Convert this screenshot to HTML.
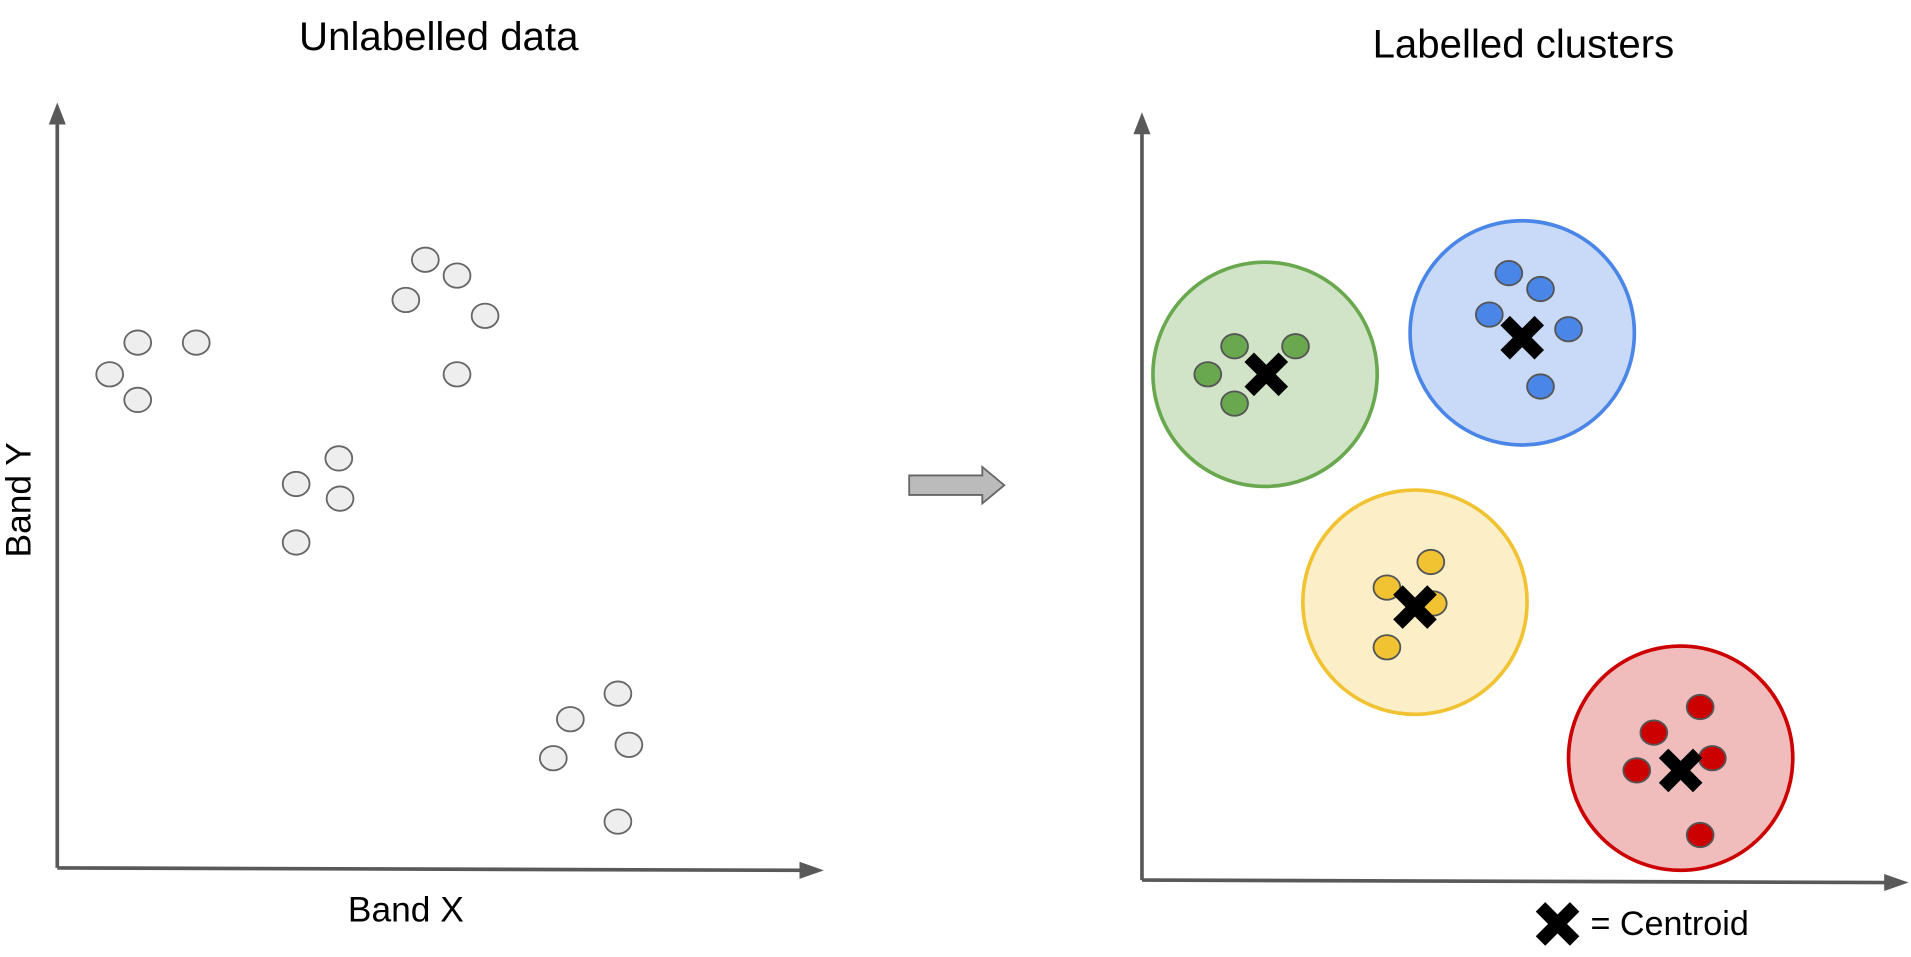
<!DOCTYPE html>
<html><head><meta charset="utf-8"><style>
html,body{margin:0;padding:0;background:#fff;}
svg{display:block;}
text{font-family:"Liberation Sans",sans-serif;fill:#000;}
</style></head><body>
<svg width="1911" height="957" viewBox="0 0 1568 785" xmlns="http://www.w3.org/2000/svg">
<defs>
<g id="x"><path d="M-14,-14 L14,14 M14,-14 L-14,14" stroke="#000" stroke-width="11" stroke-linecap="butt"/></g>
</defs>
<rect width="1568" height="785" fill="#fff"/>
<text x="360" y="41" font-size="33" text-anchor="middle">Unlabelled data</text>
<text x="1250" y="47" font-size="33" text-anchor="middle">Labelled clusters</text>
<text x="333" y="756" font-size="29" text-anchor="middle">Band X</text>
<text x="0" y="0" font-size="29" text-anchor="middle" transform="translate(25,410) rotate(-90)">Band Y</text>

<g stroke="#595959" stroke-width="3" fill="#595959">
<line x1="47" y1="712" x2="47" y2="100"/>
<line x1="47" y1="712" x2="660" y2="714"/>
</g>
<polygon points="47,84 40,102 54,102" fill="#595959"/>
<polygon points="676,714 656,707 656,721" fill="#595959"/>

<g fill="#eeeeee" stroke="#666" stroke-width="1.5">
<ellipse cx="113" cy="281" rx="11" ry="10"/><ellipse cx="161" cy="281" rx="11" ry="10"/>
<ellipse cx="90" cy="307" rx="11" ry="10"/><ellipse cx="113" cy="328" rx="11" ry="10"/>
<ellipse cx="349" cy="213" rx="11" ry="10"/><ellipse cx="375" cy="226" rx="11" ry="10"/>
<ellipse cx="333" cy="246" rx="11" ry="10"/><ellipse cx="398" cy="259" rx="11" ry="10"/>
<ellipse cx="375" cy="307" rx="11" ry="10"/>
<ellipse cx="278" cy="376" rx="11" ry="10"/><ellipse cx="243" cy="397" rx="11" ry="10"/>
<ellipse cx="279" cy="409" rx="11" ry="10"/><ellipse cx="243" cy="445" rx="11" ry="10"/>
<ellipse cx="507" cy="569" rx="11" ry="10"/><ellipse cx="468" cy="590" rx="11" ry="10"/>
<ellipse cx="516" cy="611" rx="11" ry="10"/><ellipse cx="454" cy="622" rx="11" ry="10"/>
<ellipse cx="507" cy="674" rx="11" ry="10"/>
</g>

<polygon points="746,390 806,390 806,383 824,398 806,413 806,406 746,406" fill="#bbbbbb" stroke="#666" stroke-width="1.5"/>

<g stroke="#595959" stroke-width="3">
<line x1="937" y1="722" x2="937" y2="108"/>
<line x1="937" y1="722" x2="1550" y2="724"/>
</g>
<polygon points="937,92 930,110 944,110" fill="#595959"/>
<polygon points="1566,724 1546,717 1546,731" fill="#595959"/>

<circle cx="1038" cy="307" r="92" fill="#d2e4c8" stroke="#6aa84f" stroke-width="3"/>
<g fill="#6aa84f" stroke="#555" stroke-width="1.5">
<ellipse cx="1013" cy="284" rx="11" ry="10"/><ellipse cx="1063" cy="284" rx="11" ry="10"/>
<ellipse cx="991" cy="307" rx="11" ry="10"/><ellipse cx="1013" cy="331" rx="11" ry="10"/>
</g>
<use href="#x" x="1039" y="307"/>

<circle cx="1249" cy="273" r="92" fill="#c9daf8" stroke="#4a86e8" stroke-width="3"/>
<g fill="#4a86e8" stroke="#555" stroke-width="1.5">
<ellipse cx="1238" cy="224" rx="11" ry="10"/><ellipse cx="1264" cy="237" rx="11" ry="10"/>
<ellipse cx="1222" cy="258" rx="11" ry="10"/><ellipse cx="1287" cy="270" rx="11" ry="10"/>
<ellipse cx="1264" cy="317" rx="11" ry="10"/>
</g>
<use href="#x" x="1249" y="277"/>

<circle cx="1161" cy="494" r="92" fill="#fcefc8" stroke="#f1c232" stroke-width="3"/>
<g fill="#f1c232" stroke="#555" stroke-width="1.5">
<ellipse cx="1174" cy="461" rx="11" ry="10"/><ellipse cx="1138" cy="482" rx="11" ry="10"/>
<ellipse cx="1176" cy="495" rx="11" ry="10"/><ellipse cx="1138" cy="531" rx="11" ry="10"/>
</g>
<use href="#x" x="1161" y="498"/>

<circle cx="1379" cy="622" r="92" fill="#f1bcbc" stroke="#cc0000" stroke-width="3"/>
<g fill="#cc0000" stroke="#555" stroke-width="1.5">
<ellipse cx="1395" cy="580" rx="11" ry="10"/><ellipse cx="1357" cy="601" rx="11" ry="10"/>
<ellipse cx="1405" cy="622" rx="11" ry="10"/><ellipse cx="1343" cy="632" rx="11" ry="10"/>
<ellipse cx="1395" cy="685" rx="11" ry="10"/>
</g>
<use href="#x" x="1379" y="632"/>

<use href="#x" x="1278" y="758"/>
<text x="1305" y="767" font-size="28">= Centroid</text>
</svg>
</body></html>
